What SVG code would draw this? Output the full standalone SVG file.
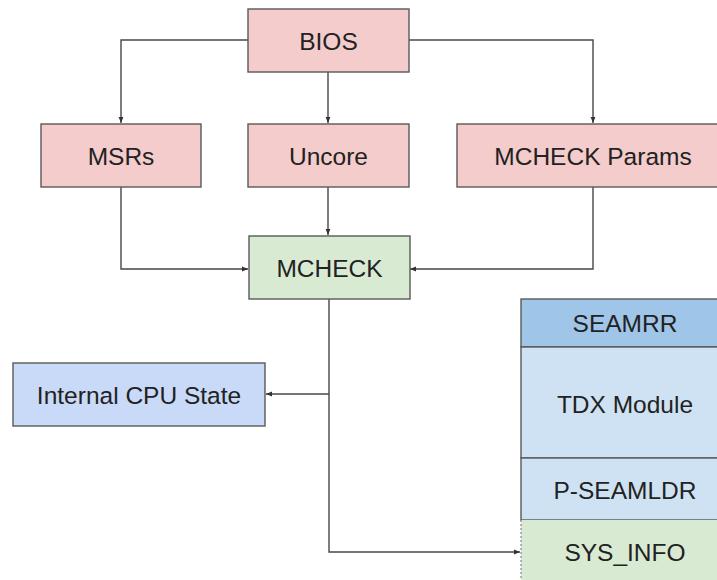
<svg xmlns="http://www.w3.org/2000/svg" width="717" height="580" viewBox="0 0 717 580">
<defs>
<style>
.box{stroke:#595959;stroke-width:1.4}
.pink{fill:#f4cccc}
.green{fill:#d9ead3}
.blue{fill:#c9daf8}
.sblue{fill:#9fc5e8}
.lblue{fill:#cfe2f3}
.t{font-family:"Liberation Sans",Arial,sans-serif;font-size:24.5px;fill:#222;text-anchor:middle}
.c{fill:none;stroke:#474747;stroke-width:1.4}
</style>
<marker id="ah" viewBox="0 0 10 10" refX="10" refY="5" markerWidth="6" markerHeight="6" orient="auto" markerUnits="userSpaceOnUse">
<path d="M0,1 L10,5 L0,9 z" fill="#333"/>
</marker>
</defs>
<rect width="717" height="580" fill="#fff"/>
<g id="connectors">
<path class="c" d="M248,40 H121 V123" marker-end="url(#ah)"/>
<path class="c" d="M328,72 V123" marker-end="url(#ah)"/>
<path class="c" d="M409,40 H593 V123" marker-end="url(#ah)"/>
<path class="c" d="M121,187 V269 H248" marker-end="url(#ah)"/>
<path class="c" d="M328,187 V235" marker-end="url(#ah)"/>
<path class="c" d="M593,187 V269 H410" marker-end="url(#ah)"/>
<path class="c" d="M329,299 V552 H520" marker-end="url(#ah)"/>
<path class="c" d="M329,394 H266" marker-end="url(#ah)"/>
</g>
<g id="bios"><rect class="box pink" x="248" y="9" width="161" height="63"/><text class="t" x="328.5" y="49.5">BIOS</text></g>
<g id="msrs"><rect class="box pink" x="41" y="124" width="160" height="63"/><text class="t" x="121" y="164.5">MSRs</text></g>
<g id="uncore"><rect class="box pink" x="248" y="124" width="161" height="63"/><text class="t" x="328.5" y="164.5">Uncore</text></g>
<g id="mcheck-params"><rect class="box pink" x="457" y="124" width="272" height="63"/><text class="t" x="593" y="164.5">MCHECK Params</text></g>
<g id="mcheck"><rect class="box green" x="249" y="236" width="161" height="63"/><text class="t" x="329.5" y="276.5">MCHECK</text></g>
<g id="internal-cpu-state"><rect class="box blue" x="13" y="363" width="252" height="63"/><text class="t" x="139" y="403.5">Internal CPU State</text></g>
<g id="seamrr"><rect class="box sblue" x="521" y="299" width="208" height="48"/><text class="t" x="625" y="332">SEAMRR</text></g>
<g id="tdx-module"><rect class="box lblue" x="521" y="347" width="208" height="111"/><text class="t" x="625" y="413">TDX Module</text></g>
<g id="p-seamldr"><rect class="box lblue" x="521" y="458" width="208" height="62"/><text class="t" x="625" y="498.5">P-SEAMLDR</text></g>
<g id="sys-info"><rect x="521" y="520" width="208" height="70" fill="#d9ead3"/><line x1="521" y1="520" x2="521" y2="590" stroke="#888" stroke-width="1.2" stroke-dasharray="2,2"/><text class="t" x="625" y="561">SYS_INFO</text></g>
</svg>
